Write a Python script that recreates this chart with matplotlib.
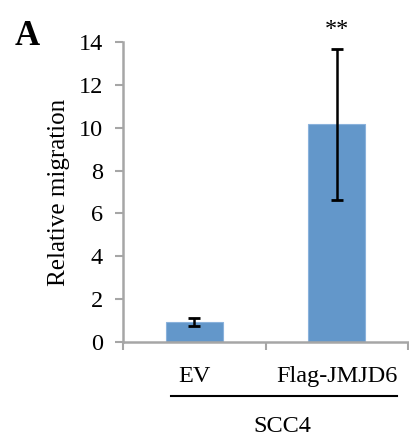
import matplotlib
matplotlib.use('Agg')
import matplotlib.pyplot as plt
import numpy as np

# data
groups = ['EV', 'Flag-JMJD6']
values = [0.93, 10.15]
errors = [0.19, 3.5]
yticks = [0, 2, 4, 6, 8, 10, 12, 14]

plt.rcParams['font.family'] = ['Liberation Serif', 'DejaVu Serif']
fs = 17.5

fig = plt.figure(figsize=(4.09, 4.42), dpi=100)
ax = fig.add_axes([0.3007, 0.2262, 0.6969, 0.6788])

x = np.arange(len(groups))
ax.bar(x, values, width=0.4, color='#6397ca', edgecolor='#8ab2dc', linewidth=0.8, zorder=2)
ax.errorbar(x, values, yerr=errors, fmt='none', ecolor='black', elinewidth=1.8,
            capsize=4, capthick=2, zorder=3)

ax.set_xlim(-0.5, 1.5)
ax.set_ylim(0, 14)
ax.set_yticks(yticks)
ax.set_yticklabels([str(t) for t in yticks], fontsize=fs)
ax.set_xticks([-0.5, 0.5, 1.5])
ax.set_xticklabels([])
ax.tick_params(axis='y', direction='out', length=5.5, width=1.5, color='#a6a6a6', pad=9)
ax.tick_params(axis='x', direction='out', length=5.5, width=1.5, color='#a6a6a6')

for s in ['top', 'right']:
    ax.spines[s].set_visible(False)
for s in ['left', 'bottom']:
    ax.spines[s].set_color('#a6a6a6')
    ax.spines[s].set_linewidth(1.8)

# category labels
for xi, g in zip(x, groups):
    ax.text(xi, -0.115, g, transform=ax.get_xaxis_transform(), ha='center', va='center', fontsize=fs)

# group bar and label
ax.plot([-0.16, 1.42], [-0.18, -0.18], transform=ax.get_xaxis_transform(), color='black',
        linewidth=1.5, clip_on=False)
ax.text(0.62, -0.28, 'SCC4', transform=ax.get_xaxis_transform(), ha='center', va='center', fontsize=fs)

# significance
ax.text(1, values[1] + errors[1] + 0.45, '**', ha='center', va='bottom', fontsize=fs)

ax.set_ylabel('Relative migration', fontsize=18, labelpad=6)
fig.text(0.035, 0.955, 'A', fontsize=25, fontweight='bold', ha='left', va='top')

fig.savefig('out.png', dpi=100)
